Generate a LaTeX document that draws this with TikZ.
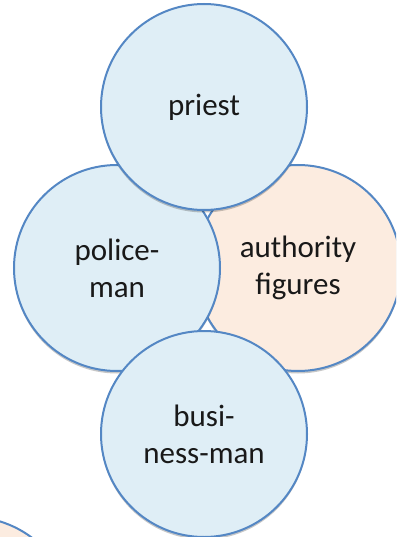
\documentclass[tikz,border=0pt]{standalone}
\usepackage{fontspec}
\setmainfont{Carlito}
\usetikzlibrary{shadows}
\definecolor{figline}{RGB}{84,135,196}
\definecolor{figblue}{RGB}{223,238,246}
\definecolor{figpeach}{RGB}{252,236,224}
\tikzset{
	fig/.style={circle, draw=figline, line width=2pt, minimum size=206pt, inner sep=0pt,
		align=center, text=black!90, font=\fontsize{31}{37}\selectfont,
		drop shadow={shadow xshift=0pt, shadow yshift=-2.5pt, opacity=0.22, fill=black}},
	role/.style={fig, fill=figblue},
	group/.style={fig, fill=figpeach}
}
\begin{document}
\begin{tikzpicture}[x=1pt,y=-1pt]
	\useasboundingbox (0,0) rectangle (396,537);
	\clip (0,0) rectangle (396,537);
	% the four surrounding roles and the group
	\node[group] (authority) at (298,268) {authority\\figures};
	\node[role] (policeman) at (117,268) {police-\\man};
	\node[role] (priest) at (204,107) {priest};
	\node[role] (businessman) at (204,434) {busi-\\ness-man};
	\node[group] (next) at (-30,620) {};
\end{tikzpicture}
\end{document}
